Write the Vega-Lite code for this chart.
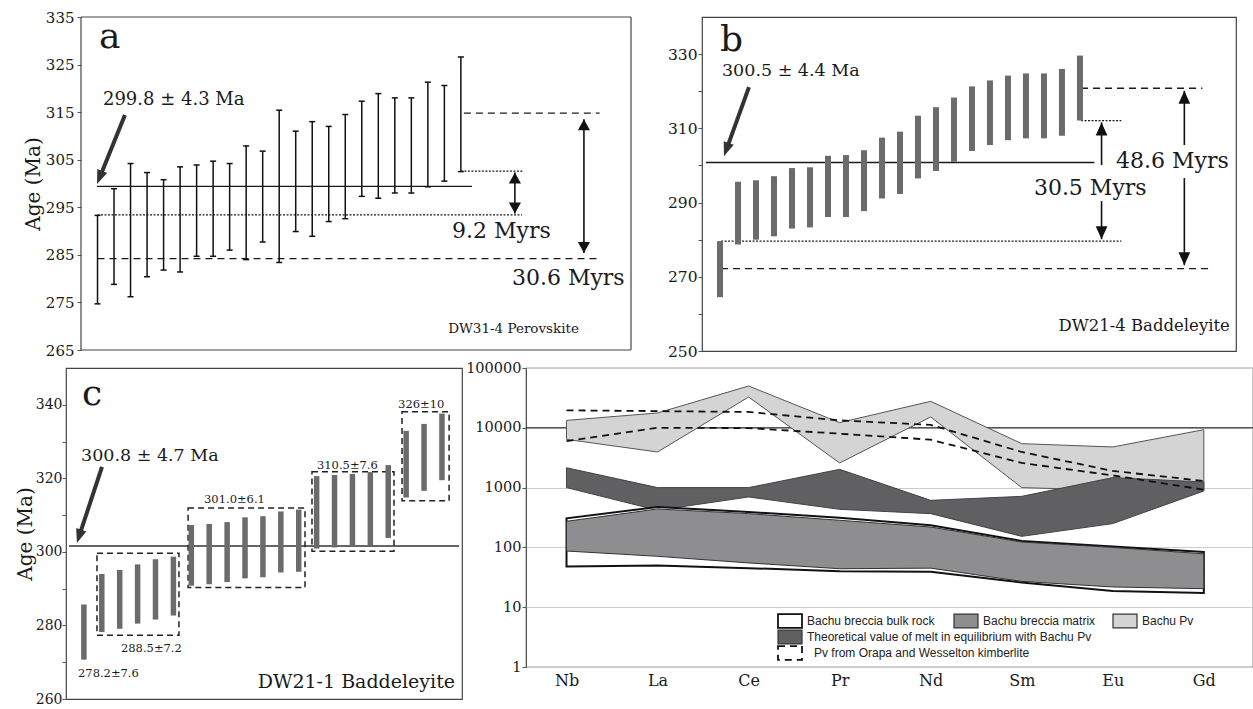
{
 "$schema": "https://vega.github.io/schema/vega-lite/v6.json",
 "background": "white",
 "padding": {"left": 14, "top": 10, "right": 0, "bottom": 0},
 "columns": 1,
 "align": "none",
 "spacing": -2,
 "resolve": {"scale": {"fill": "independent", "strokeDash": "independent", "shape": "independent"}, "legend": {"fill": "independent", "strokeDash": "independent"}},
 "config": {
  "view": {"stroke": "#444", "strokeWidth": 1.2},
  "axis": {"labelFont": "DejaVu Serif", "titleFont": "DejaVu Serif", "labelColor": "#1a1a1a", "titleColor": "#1a1a1a", "tickColor": "#555", "domain": false, "grid": false, "titleFontWeight": "normal", "labelOverlap": false},
  "text": {"font": "DejaVu Serif", "color": "#1a1a1a"}
 },
 "datasets": {
  "aBars": [
   {"i":1,"lo":274.7,"hi":293.3},{"i":2,"lo":278.8,"hi":298.9},{"i":3,"lo":276.2,"hi":304.2},{"i":4,"lo":280.4,"hi":302.3},
   {"i":5,"lo":281.8,"hi":300.8},{"i":6,"lo":281.4,"hi":303.5},{"i":7,"lo":284.7,"hi":303.9},{"i":8,"lo":284.7,"hi":304.7},
   {"i":9,"lo":286.0,"hi":304.2},{"i":10,"lo":284.0,"hi":307.9},{"i":11,"lo":287.7,"hi":306.8},{"i":12,"lo":283.4,"hi":315.4},
   {"i":13,"lo":289.9,"hi":311.0},{"i":14,"lo":288.9,"hi":313.0},{"i":15,"lo":292.0,"hi":312.0},{"i":16,"lo":292.6,"hi":314.5},
   {"i":17,"lo":297.3,"hi":317.3},{"i":18,"lo":296.9,"hi":318.9},{"i":19,"lo":298.0,"hi":318.0},{"i":20,"lo":298.0,"hi":318.0},
   {"i":21,"lo":299.3,"hi":321.3},{"i":22,"lo":300.5,"hi":320.6},{"i":23,"lo":302.5,"hi":326.6}
  ],
  "aFrame": [
   {"x":0,"x2":0,"y":265,"y2":335},
   {"x":33.3,"x2":33.3,"y":265,"y2":335},
   {"x":0,"x2":33.3,"y":265,"y2":265},
   {"x":0,"x2":33.3,"y":335,"y2":335}
  ],
  "aLines": [
   {"kind":"solid","x1":0.97,"x2":23.67,"y":299.4},
   {"kind":"dotted","x1":1.0,"x2":26.7,"y":293.4},
   {"kind":"dashed","x1":1.0,"x2":31.36,"y":284.2},
   {"kind":"dotted","x1":23.0,"x2":26.8,"y":302.6},
   {"kind":"dashed","x1":23.18,"x2":31.4,"y":314.8}
  ],
  "aShafts": [{"x":26.27,"y1":293.7,"y2":302.3},{"x":30.45,"y1":285.4,"y2":313.5}],
  "aHeads": [{"x":26.27,"y":302.3,"dir":"up"},{"x":26.27,"y":293.7,"dir":"down"},{"x":30.45,"y":313.5,"dir":"up"},{"x":30.45,"y":285.4,"dir":"down"}],
  "bBars": [
   {"i":1,"lo":264.5,"hi":279.6},{"i":2,"lo":278.7,"hi":295.6},{"i":3,"lo":280.0,"hi":296.0},{"i":4,"lo":280.9,"hi":297.1},
   {"i":5,"lo":283.0,"hi":299.3},{"i":6,"lo":283.3,"hi":299.5},{"i":7,"lo":286.1,"hi":302.6},{"i":8,"lo":286.1,"hi":302.8},
   {"i":9,"lo":287.7,"hi":304.1},{"i":10,"lo":291.1,"hi":307.5},{"i":11,"lo":292.3,"hi":309.1},{"i":12,"lo":296.5,"hi":313.4},
   {"i":13,"lo":298.5,"hi":315.7},{"i":14,"lo":301.0,"hi":318.3},{"i":15,"lo":303.9,"hi":321.3},{"i":16,"lo":305.5,"hi":322.9},
   {"i":17,"lo":306.8,"hi":324.2},{"i":18,"lo":307.3,"hi":324.8},{"i":19,"lo":307.3,"hi":324.8},{"i":20,"lo":308.0,"hi":326.0},
   {"i":21,"lo":312.1,"hi":329.6}
  ],
  "bLines": [
   {"kind":"solid","x1":0.22,"x2":21.8,"y":300.8},
   {"kind":"dotted","x1":1.06,"x2":23.3,"y":279.6},
   {"kind":"dashed","x1":1.06,"x2":28.3,"y":272.2},
   {"kind":"dotted","x1":21.06,"x2":23.3,"y":312.1},
   {"kind":"dashed","x1":21.06,"x2":27.8,"y":320.8}
  ],
  "bShafts": [{"x":22.2,"y1":300.1,"y2":311.6},{"x":22.2,"y1":280.1,"y2":290.4},{"x":26.8,"y1":305.5,"y2":320.1},{"x":26.8,"y1":273.1,"y2":296.6}],
  "bHeads": [{"x":22.2,"y":311.6,"dir":"up"},{"x":22.2,"y":280.1,"dir":"down"},{"x":26.8,"y":320.1,"dir":"up"},{"x":26.8,"y":273.1,"dir":"down"}],
  "cBars": [
   {"i":1,"lo":270.7,"hi":285.7},{"i":2,"lo":278.2,"hi":294.0},{"i":3,"lo":279.1,"hi":295.1},{"i":4,"lo":280.5,"hi":296.6},
   {"i":5,"lo":281.6,"hi":298.0},{"i":6,"lo":282.7,"hi":298.7},{"i":7,"lo":290.8,"hi":307.3},{"i":8,"lo":291.2,"hi":307.6},
   {"i":9,"lo":291.8,"hi":308.1},{"i":10,"lo":292.8,"hi":309.4},{"i":11,"lo":293.1,"hi":309.7},{"i":12,"lo":294.4,"hi":311.0},
   {"i":13,"lo":294.6,"hi":311.5},{"i":14,"lo":300.9,"hi":320.6},{"i":15,"lo":301.2,"hi":320.9},{"i":16,"lo":301.8,"hi":321.2},
   {"i":17,"lo":301.8,"hi":321.7},{"i":18,"lo":303.8,"hi":323.6},{"i":19,"lo":314.8,"hi":332.9},{"i":20,"lo":316.6,"hi":334.8},
   {"i":21,"lo":319.5,"hi":337.6}
  ],
  "cBoxes": [
   {"x1":1.73,"x2":6.31,"y1":277.3,"y2":299.6},
   {"x1":6.82,"x2":13.35,"y1":290.3,"y2":311.9},
   {"x1":13.74,"x2":18.32,"y1":300.2,"y2":321.8},
   {"x1":18.77,"x2":21.4,"y1":313.9,"y2":338.1}
  ],
  "cGroupLabels": [
   {"x":0.67,"y":266.1,"t":"278.2±7.6"},
   {"x":3.07,"y":272.8,"t":"288.5±7.2"},
   {"x":7.71,"y":313.4,"t":"301.0±6.1"},
   {"x":14.02,"y":322.6,"t":"310.5±7.6"},
   {"x":18.55,"y":339.2,"t":"326±10"}
  ],
  "dBands": [
   {"el":"Nb","k":1,"series":"Bachu Pv","lo":6400,"hi":13300},
   {"el":"La","k":2,"series":"Bachu Pv","lo":3940,"hi":17700},
   {"el":"Ce","k":3,"series":"Bachu Pv","lo":32700,"hi":50000},
   {"el":"Pr","k":4,"series":"Bachu Pv","lo":2580,"hi":12200},
   {"el":"Nd","k":5,"series":"Bachu Pv","lo":15200,"hi":27700},
   {"el":"Sm","k":6,"series":"Bachu Pv","lo":1000,"hi":5430},
   {"el":"Eu","k":7,"series":"Bachu Pv","lo":900,"hi":4780},
   {"el":"Gd","k":8,"series":"Bachu Pv","lo":900,"hi":9300},
   {"el":"Nb","k":1,"series":"Theoretical value of melt in equilibrium with Bachu Pv","lo":1000,"hi":2150},
   {"el":"La","k":2,"series":"Theoretical value of melt in equilibrium with Bachu Pv","lo":417,"hi":1000},
   {"el":"Ce","k":3,"series":"Theoretical value of melt in equilibrium with Bachu Pv","lo":697,"hi":1000},
   {"el":"Pr","k":4,"series":"Theoretical value of melt in equilibrium with Bachu Pv","lo":433,"hi":2020},
   {"el":"Nd","k":5,"series":"Theoretical value of melt in equilibrium with Bachu Pv","lo":367,"hi":612},
   {"el":"Sm","k":6,"series":"Theoretical value of melt in equilibrium with Bachu Pv","lo":153,"hi":714},
   {"el":"Eu","k":7,"series":"Theoretical value of melt in equilibrium with Bachu Pv","lo":250,"hi":1470},
   {"el":"Gd","k":8,"series":"Theoretical value of melt in equilibrium with Bachu Pv","lo":877,"hi":1240},
   {"el":"Nb","k":1,"series":"Bachu breccia bulk rock","lo":48,"hi":306},
   {"el":"La","k":2,"series":"Bachu breccia bulk rock","lo":50,"hi":474},
   {"el":"Ce","k":3,"series":"Bachu breccia bulk rock","lo":45,"hi":391},
   {"el":"Pr","k":4,"series":"Bachu breccia bulk rock","lo":40,"hi":314},
   {"el":"Nd","k":5,"series":"Bachu breccia bulk rock","lo":39,"hi":234},
   {"el":"Sm","k":6,"series":"Bachu breccia bulk rock","lo":26,"hi":128},
   {"el":"Eu","k":7,"series":"Bachu breccia bulk rock","lo":18.7,"hi":104},
   {"el":"Gd","k":8,"series":"Bachu breccia bulk rock","lo":17.3,"hi":84},
   {"el":"Nb","k":1,"series":"Bachu breccia matrix","lo":87,"hi":273},
   {"el":"La","k":2,"series":"Bachu breccia matrix","lo":71,"hi":439},
   {"el":"Ce","k":3,"series":"Bachu breccia matrix","lo":55,"hi":367},
   {"el":"Pr","k":4,"series":"Bachu breccia matrix","lo":44,"hi":284},
   {"el":"Nd","k":5,"series":"Bachu breccia matrix","lo":45,"hi":219},
   {"el":"Sm","k":6,"series":"Bachu breccia matrix","lo":27,"hi":123},
   {"el":"Eu","k":7,"series":"Bachu breccia matrix","lo":21.8,"hi":100},
   {"el":"Gd","k":8,"series":"Bachu breccia matrix","lo":20.4,"hi":78}
  ],
  "dDash": [
   {"el":"Nb","k":1,"bound":"upper","src":"Pv from Orapa and Wesselton kimberlite","v":19600},
   {"el":"La","k":2,"bound":"upper","src":"Pv from Orapa and Wesselton kimberlite","v":19000},
   {"el":"Ce","k":3,"bound":"upper","src":"Pv from Orapa and Wesselton kimberlite","v":18400},
   {"el":"Pr","k":4,"bound":"upper","src":"Pv from Orapa and Wesselton kimberlite","v":13300},
   {"el":"Nd","k":5,"bound":"upper","src":"Pv from Orapa and Wesselton kimberlite","v":11200},
   {"el":"Sm","k":6,"bound":"upper","src":"Pv from Orapa and Wesselton kimberlite","v":3940},
   {"el":"Eu","k":7,"bound":"upper","src":"Pv from Orapa and Wesselton kimberlite","v":1900},
   {"el":"Gd","k":8,"bound":"upper","src":"Pv from Orapa and Wesselton kimberlite","v":1290},
   {"el":"Nb","k":1,"bound":"lower","src":"Pv from Orapa and Wesselton kimberlite","v":6000},
   {"el":"La","k":2,"bound":"lower","src":"Pv from Orapa and Wesselton kimberlite","v":10000},
   {"el":"Ce","k":3,"bound":"lower","src":"Pv from Orapa and Wesselton kimberlite","v":9900},
   {"el":"Pr","k":4,"bound":"lower","src":"Pv from Orapa and Wesselton kimberlite","v":7980},
   {"el":"Nd","k":5,"bound":"lower","src":"Pv from Orapa and Wesselton kimberlite","v":6330},
   {"el":"Sm","k":6,"bound":"lower","src":"Pv from Orapa and Wesselton kimberlite","v":2580},
   {"el":"Eu","k":7,"bound":"lower","src":"Pv from Orapa and Wesselton kimberlite","v":1600},
   {"el":"Gd","k":8,"bound":"lower","src":"Pv from Orapa and Wesselton kimberlite","v":923}
  ]
 },
 "concat": [
  {
   "spacing": 34,
   "resolve": {"scale": {"fill": "independent", "strokeDash": "independent", "shape": "independent"}, "legend": {"fill": "independent", "strokeDash": "independent"}},
   "hconcat": [
    {
     "width": 565, "height": 333,
     "view": {"stroke": null},
     "layer": [
      {"data": {"name": "aFrame"},
       "mark": {"type": "rule", "color": "#444", "strokeWidth": 1.2},
       "encoding": {
        "x": {"field": "x", "type": "quantitative", "scale": {"domain": [-0.908, 33.3], "nice": false, "zero": false}, "axis": null},
        "x2": {"field": "x2"},
        "y": {"field": "y", "type": "quantitative", "scale": {"domain": [265, 335], "nice": false, "zero": false},
              "axis": {"title": "Age (Ma)", "offset": -15, "values": [265,270,275,280,285,290,295,300,305,310,315,320,325,330,335], "labelExpr": "datum.value % 10 == 5 ? datum.label : ''", "labelFontSize": 15, "titleFontSize": 20, "tickSize": 4, "labelPadding": 3, "titlePadding": 2}},
        "y2": {"field": "y2"}
       }},
      {"data": {"name": "aLines"},
       "mark": {"type": "rule", "color": "#1a1a1a", "strokeWidth": 1.3},
       "encoding": {
        "x": {"field": "x1", "type": "quantitative", "axis": null},
        "x2": {"field": "x2"},
        "y": {"field": "y", "type": "quantitative"},
        "strokeDash": {"field": "kind", "type": "nominal", "scale": {"domain": ["solid","dotted","dashed"], "range": [[1,0],[2,1.5],[7,5]]}, "legend": null}
       }},
      {"data": {"name": "aBars"},
       "mark": {"type": "rule", "color": "#111", "strokeWidth": 1.5},
       "encoding": {"x": {"field": "i", "type": "quantitative", "axis": null}, "y": {"field": "lo", "type": "quantitative"}, "y2": {"field": "hi"}}},
      {"data": {"name": "aBars"},
       "transform": [{"fold": ["lo", "hi"], "as": ["end", "age"]}],
       "mark": {"type": "tick", "orient": "horizontal", "size": 6, "thickness": 1.5, "color": "#111", "opacity": 1},
       "encoding": {"x": {"field": "i", "type": "quantitative", "axis": null}, "y": {"field": "age", "type": "quantitative"}}},
      {"data": {"name": "aShafts"},
       "mark": {"type": "rule", "color": "#111", "strokeWidth": 1.6},
       "encoding": {"x": {"field": "x", "type": "quantitative", "axis": null}, "y": {"field": "y1", "type": "quantitative"}, "y2": {"field": "y2"}}},
      {"data": {"name": "aHeads"},
       "mark": {"type": "point", "filled": true, "color": "#111", "opacity": 1, "size": 484, "strokeWidth": 0},
       "encoding": {"x": {"field": "x", "type": "quantitative", "axis": null}, "y": {"field": "y", "type": "quantitative"},
        "shape": {"field": "dir", "type": "nominal", "scale": {"domain": ["up","down"], "range": ["M0,0L-0.55,1L0.55,1Z", "M0,0L-0.55,-1L0.55,-1Z"]}, "legend": null}}},
      {"data": {"values": [{"x": 2.66, "y": 314.4, "x2": 1.2, "y2": 301.85}]},
       "mark": {"type": "rule", "color": "#333", "strokeWidth": 4},
       "encoding": {"x": {"field": "x", "type": "quantitative", "axis": null}, "y": {"field": "y", "type": "quantitative"}, "x2": {"field": "x2"}, "y2": {"field": "y2"}}},
      {"data": {"values": [{"x": 0.97, "y": 299.9}]},
       "mark": {"type": "point", "filled": true, "color": "#333", "opacity": 1, "size": 784, "strokeWidth": 0, "shape": "M0,0L-0.38,1L0.38,1Z", "angle": 202},
       "encoding": {"x": {"field": "x", "type": "quantitative", "axis": null}, "y": {"field": "y", "type": "quantitative"}}},
      {"data": {"values": [{"x": 1.09, "y": 328.5, "t": "a"}]},
       "mark": {"type": "text", "align": "left", "baseline": "alphabetic", "fontSize": 36},
       "encoding": {"x": {"field": "x", "type": "quantitative", "axis": null}, "y": {"field": "y", "type": "quantitative"}, "text": {"field": "t"}}},
      {"data": {"values": [{"x": 1.33, "y": 316.5, "t": "299.8 ± 4.3 Ma"}]},
       "mark": {"type": "text", "align": "left", "baseline": "alphabetic", "fontSize": 18},
       "encoding": {"x": {"field": "x", "type": "quantitative", "axis": null}, "y": {"field": "y", "type": "quantitative"}, "text": {"field": "t"}}},
      {"data": {"values": [{"x": 22.46, "y": 288.5, "t": "9.2 Myrs"}, {"x": 26.09, "y": 278.7, "t": "30.6 Myrs"}]},
       "mark": {"type": "text", "align": "left", "baseline": "alphabetic", "fontSize": 22},
       "encoding": {"x": {"field": "x", "type": "quantitative", "axis": null}, "y": {"field": "y", "type": "quantitative"}, "text": {"field": "t"}}},
      {"data": {"values": [{"x": 30.15, "y": 268.6, "t": "DW31-4 Perovskite"}]},
       "mark": {"type": "text", "align": "right", "baseline": "alphabetic", "fontSize": 13.5},
       "encoding": {"x": {"field": "x", "type": "quantitative", "axis": null}, "y": {"field": "y", "type": "quantitative"}, "text": {"field": "t"}}}
     ]
    },
    {
     "width": 534, "height": 334,
     "layer": [
      {"data": {"name": "bLines"},
       "mark": {"type": "rule", "color": "#1a1a1a", "strokeWidth": 1.3},
       "encoding": {
        "x": {"field": "x1", "type": "quantitative", "scale": {"domain": [0, 29.67], "nice": false}, "axis": null},
        "x2": {"field": "x2"},
        "y": {"field": "y", "type": "quantitative", "scale": {"domain": [250, 340], "nice": false, "zero": false},
              "axis": {"title": null, "values": [250,260,270,280,290,300,310,320,330], "labelExpr": "datum.value % 20 == 10 ? datum.label : ''", "labelFontSize": 15.5, "tickSize": 4, "labelPadding": 1}},
        "strokeDash": {"field": "kind", "type": "nominal", "scale": {"domain": ["solid","dotted","dashed"], "range": [[1,0],[2,1.5],[7,5]]}, "legend": null}
       }},
      {"data": {"name": "bBars"},
       "mark": {"type": "rule", "color": "#6b6b6d", "strokeWidth": 6},
       "encoding": {"x": {"field": "i", "type": "quantitative", "axis": null}, "y": {"field": "lo", "type": "quantitative"}, "y2": {"field": "hi"}}},
      {"data": {"name": "bShafts"},
       "mark": {"type": "rule", "color": "#111", "strokeWidth": 1.6},
       "encoding": {"x": {"field": "x", "type": "quantitative", "axis": null}, "y": {"field": "y1", "type": "quantitative"}, "y2": {"field": "y2"}}},
      {"data": {"name": "bHeads"},
       "mark": {"type": "point", "filled": true, "color": "#111", "opacity": 1, "size": 676, "strokeWidth": 0},
       "encoding": {"x": {"field": "x", "type": "quantitative", "axis": null}, "y": {"field": "y", "type": "quantitative"},
        "shape": {"field": "dir", "type": "nominal", "scale": {"domain": ["up","down"], "range": ["M0,0L-0.45,1L0.45,1Z", "M0,0L-0.45,-1L0.45,-1Z"]}, "legend": null}}},
      {"data": {"values": [{"x": 2.61, "y": 321.1, "x2": 1.41, "y2": 305.0}]},
       "mark": {"type": "rule", "color": "#333", "strokeWidth": 4},
       "encoding": {"x": {"field": "x", "type": "quantitative", "axis": null}, "y": {"field": "y", "type": "quantitative"}, "x2": {"field": "x2"}, "y2": {"field": "y2"}}},
      {"data": {"values": [{"x": 1.22, "y": 302.5}]},
       "mark": {"type": "point", "filled": true, "color": "#333", "opacity": 1, "size": 784, "strokeWidth": 0, "shape": "M0,0L-0.38,1L0.38,1Z", "angle": 200},
       "encoding": {"x": {"field": "x", "type": "quantitative", "axis": null}, "y": {"field": "y", "type": "quantitative"}}},
      {"data": {"values": [{"x": 1.0, "y": 330.8, "t": "b"}]},
       "mark": {"type": "text", "align": "left", "baseline": "alphabetic", "fontSize": 36},
       "encoding": {"x": {"field": "x", "type": "quantitative", "axis": null}, "y": {"field": "y", "type": "quantitative"}, "text": {"field": "t"}}},
      {"data": {"values": [{"x": 1.11, "y": 324.1, "t": "300.5 ± 4.4 Ma"}]},
       "mark": {"type": "text", "align": "left", "baseline": "alphabetic", "fontSize": 17.5},
       "encoding": {"x": {"field": "x", "type": "quantitative", "axis": null}, "y": {"field": "y", "type": "quantitative"}, "text": {"field": "t"}}},
      {"data": {"values": [{"x": 23.0, "y": 299.3, "t": "48.6 Myrs"}, {"x": 18.44, "y": 292.0, "t": "30.5 Myrs"}]},
       "mark": {"type": "text", "align": "left", "baseline": "alphabetic", "fontSize": 22},
       "encoding": {"x": {"field": "x", "type": "quantitative", "axis": null}, "y": {"field": "y", "type": "quantitative"}, "text": {"field": "t"}}},
      {"data": {"values": [{"x": 29.33, "y": 255.4, "t": "DW21-4 Baddeleyite"}]},
       "mark": {"type": "text", "align": "right", "baseline": "alphabetic", "fontSize": 16.5},
       "encoding": {"x": {"field": "x", "type": "quantitative", "axis": null}, "y": {"field": "y", "type": "quantitative"}, "text": {"field": "t"}}}
     ]
    }
   ]
  },
  {
   "spacing": 2,
   "resolve": {"scale": {"fill": "independent", "strokeDash": "independent", "shape": "independent"}, "legend": {"fill": "independent", "strokeDash": "independent"}},
   "hconcat": [
    {
     "width": 396, "height": 331,
     "layer": [
      {"data": {"values": [{"x1": 0.17, "x2": 21.96, "y": 301.6}]},
       "mark": {"type": "rule", "color": "#333", "strokeWidth": 1.3},
       "encoding": {
        "x": {"field": "x1", "type": "quantitative", "scale": {"domain": [0, 22.12], "nice": false}, "axis": null},
        "x2": {"field": "x2"},
        "y": {"field": "y", "type": "quantitative", "scale": {"domain": [260, 350], "nice": false, "zero": false},
              "axis": {"title": "Age (Ma)", "values": [260,270,280,290,300,310,320,330,340], "labelExpr": "datum.value % 20 == 0 ? datum.label : ''", "labelFontSize": 14, "titleFontSize": 20, "tickSize": 4, "labelPadding": 0, "titlePadding": 0}}
       }},
      {"data": {"name": "cBoxes"},
       "mark": {"type": "rect", "fill": "transparent", "stroke": "#222", "strokeWidth": 1.5, "strokeDash": [6, 4]},
       "encoding": {"x": {"field": "x1", "type": "quantitative", "axis": null}, "x2": {"field": "x2"}, "y": {"field": "y1", "type": "quantitative"}, "y2": {"field": "y2"}}},
      {"data": {"name": "cBars"},
       "mark": {"type": "rule", "color": "#6b6b6d", "strokeWidth": 5.5},
       "encoding": {"x": {"field": "i", "type": "quantitative", "axis": null}, "y": {"field": "lo", "type": "quantitative"}, "y2": {"field": "hi"}}},
      {"data": {"values": [{"x": 2.01, "y": 323.1, "x2": 0.78, "y2": 304.95}]},
       "mark": {"type": "rule", "color": "#333", "strokeWidth": 4},
       "encoding": {"x": {"field": "x", "type": "quantitative", "axis": null}, "y": {"field": "y", "type": "quantitative"}, "x2": {"field": "x2"}, "y2": {"field": "y2"}}},
      {"data": {"values": [{"x": 0.61, "y": 302.4}]},
       "mark": {"type": "point", "filled": true, "color": "#333", "opacity": 1, "size": 784, "strokeWidth": 0, "shape": "M0,0L-0.38,1L0.38,1Z", "angle": 198},
       "encoding": {"x": {"field": "x", "type": "quantitative", "axis": null}, "y": {"field": "y", "type": "quantitative"}}},
      {"data": {"values": [{"x": 0.89, "y": 340.05, "t": "c"}]},
       "mark": {"type": "text", "align": "left", "baseline": "alphabetic", "fontSize": 36},
       "encoding": {"x": {"field": "x", "type": "quantitative", "axis": null}, "y": {"field": "y", "type": "quantitative"}, "text": {"field": "t"}}},
      {"data": {"values": [{"x": 0.84, "y": 324.7, "t": "300.8 ± 4.7 Ma"}]},
       "mark": {"type": "text", "align": "left", "baseline": "alphabetic", "fontSize": 17.5},
       "encoding": {"x": {"field": "x", "type": "quantitative", "axis": null}, "y": {"field": "y", "type": "quantitative"}, "text": {"field": "t"}}},
      {"data": {"name": "cGroupLabels"},
       "mark": {"type": "text", "align": "left", "baseline": "alphabetic", "fontSize": 11.5},
       "encoding": {"x": {"field": "x", "type": "quantitative", "axis": null}, "y": {"field": "y", "type": "quantitative"}, "text": {"field": "t"}}},
      {"data": {"values": [{"x": 21.73, "y": 262.9, "t": "DW21-1 Baddeleyite"}]},
       "mark": {"type": "text", "align": "right", "baseline": "alphabetic", "fontSize": 19},
       "encoding": {"x": {"field": "x", "type": "quantitative", "axis": null}, "y": {"field": "y", "type": "quantitative"}, "text": {"field": "t"}}}
     ]
    },
    {
     "width": 727, "height": 299,
     "resolve": {"scale": {"fill": "independent"}, "legend": {"fill": "independent"}},
     "layer": [
      {"data": {"values": [{"v": 10000}]},
       "mark": {"type": "rule", "color": "#111", "strokeWidth": 1},
       "encoding": {"y": {"field": "v", "type": "quantitative", "scale": {"type": "log", "domain": [1, 100000], "nice": false}}}},
      {"data": {"name": "dBands"},
       "transform": [{"filter": "datum.series == 'Bachu Pv'"}],
       "mark": {"type": "area", "stroke": "#555", "strokeWidth": 1, "interpolate": "linear"},
       "encoding": {
        "x": {"field": "k", "type": "quantitative", "scale": {"domain": [0.555, 8.54], "nice": false, "zero": false},
              "axis": {"title": null, "values": [1,2,3,4,5,6,7,8], "labelExpr": "['', 'Nb', 'La', 'Ce', 'Pr', 'Nd', 'Sm', 'Eu', 'Gd'][datum.value]", "labelFontSize": 16, "ticks": false, "labelPadding": 5, "grid": false}},
        "y": {"field": "lo", "type": "quantitative", "scale": {"type": "log", "domain": [1, 100000], "nice": false},
              "axis": {"title": null, "values": [1,10,100,1000,10000,100000], "format": "d", "labelFontSize": 14.5, "tickSize": 4, "labelPadding": 1, "grid": true, "gridColor": "#cccccc"}},
        "y2": {"field": "hi"},
        "fill": {"field": "series", "type": "nominal", "scale": {"domain": ["Bachu Pv"], "range": ["#d4d4d4"]},
                 "legend": {"title": null, "orient": "none", "legendX": 587, "legendY": 246, "symbolType": "M-2,-1.15H2V1.15H-2Z", "symbolSize": 144, "symbolStrokeColor": "#333", "symbolStrokeWidth": 1.2, "symbolOpacity": 1, "symbolOffset": 5, "labelOffset": 10, "labelFont": "Liberation Sans", "labelFontSize": 12, "labelColor": "#222", "labelLimit": 400, "padding": 0}}
       }},
      {"data": {"name": "dBands"},
       "transform": [{"filter": "datum.series == 'Theoretical value of melt in equilibrium with Bachu Pv'"}],
       "mark": {"type": "area", "stroke": "#444", "strokeWidth": 1, "interpolate": "linear"},
       "encoding": {"x": {"field": "k", "type": "quantitative"}, "y": {"field": "lo", "type": "quantitative"}, "y2": {"field": "hi"},
        "fill": {"field": "series", "type": "nominal", "scale": {"domain": ["Theoretical value of melt in equilibrium with Bachu Pv"], "range": ["#606062"]},
                 "legend": {"title": null, "orient": "none", "legendX": 252, "legendY": 262, "symbolType": "M-2,-1.15H2V1.15H-2Z", "symbolSize": 144, "symbolStrokeColor": "#333", "symbolStrokeWidth": 1.2, "symbolOpacity": 1, "symbolOffset": 5, "labelOffset": 10, "labelFont": "Liberation Sans", "labelFontSize": 12, "labelColor": "#222", "labelLimit": 400, "padding": 0}}}},
      {"data": {"name": "dBands"},
       "transform": [{"filter": "datum.series == 'Bachu breccia bulk rock'"}],
       "mark": {"type": "area", "stroke": "#111", "strokeWidth": 2, "interpolate": "linear"},
       "encoding": {"x": {"field": "k", "type": "quantitative"}, "y": {"field": "lo", "type": "quantitative"}, "y2": {"field": "hi"},
        "fill": {"field": "series", "type": "nominal", "scale": {"domain": ["Bachu breccia bulk rock"], "range": ["#ffffff"]},
                 "legend": {"title": null, "orient": "none", "legendX": 252, "legendY": 246, "symbolType": "M-2,-1.15H2V1.15H-2Z", "symbolSize": 144, "symbolStrokeColor": "#111", "symbolStrokeWidth": 1.8, "symbolOpacity": 1, "symbolOffset": 5, "labelOffset": 10, "labelFont": "Liberation Sans", "labelFontSize": 12, "labelColor": "#222", "labelLimit": 400, "padding": 0}}}},
      {"data": {"name": "dBands"},
       "transform": [{"filter": "datum.series == 'Bachu breccia matrix'"}],
       "mark": {"type": "area", "stroke": "#333", "strokeWidth": 1, "interpolate": "linear"},
       "encoding": {"x": {"field": "k", "type": "quantitative"}, "y": {"field": "lo", "type": "quantitative"}, "y2": {"field": "hi"},
        "fill": {"field": "series", "type": "nominal", "scale": {"domain": ["Bachu breccia matrix"], "range": ["#8e8e90"]},
                 "legend": {"title": null, "orient": "none", "legendX": 428, "legendY": 246, "symbolType": "M-2,-1.15H2V1.15H-2Z", "symbolSize": 144, "symbolStrokeColor": "#333", "symbolStrokeWidth": 1.2, "symbolOpacity": 1, "symbolOffset": 5, "labelOffset": 10, "labelFont": "Liberation Sans", "labelFontSize": 12, "labelColor": "#222", "labelLimit": 400, "padding": 0}}}},
      {"data": {"name": "dDash"},
       "mark": {"type": "line", "color": "#111", "strokeWidth": 1.8, "interpolate": "linear"},
       "encoding": {"x": {"field": "k", "type": "quantitative"}, "y": {"field": "v", "type": "quantitative"},
        "detail": {"field": "bound", "type": "nominal"},
        "strokeDash": {"field": "src", "type": "nominal", "scale": {"domain": ["Pv from Orapa and Wesselton kimberlite"], "range": [[7, 5]]},
                       "legend": {"title": null, "orient": "none", "legendX": 252, "legendY": 278, "symbolType": "M-2,-1.15H2V1.15H-2Z", "symbolSize": 144, "symbolStrokeColor": "#111", "symbolStrokeWidth": 1.8, "symbolFillColor": "transparent", "symbolOffset": 5, "labelOffset": 17, "labelFont": "Liberation Sans", "labelFontSize": 12, "labelColor": "#222", "labelLimit": 400, "padding": 0}}}}
     ]
    }
   ]
  }
 ]
}
